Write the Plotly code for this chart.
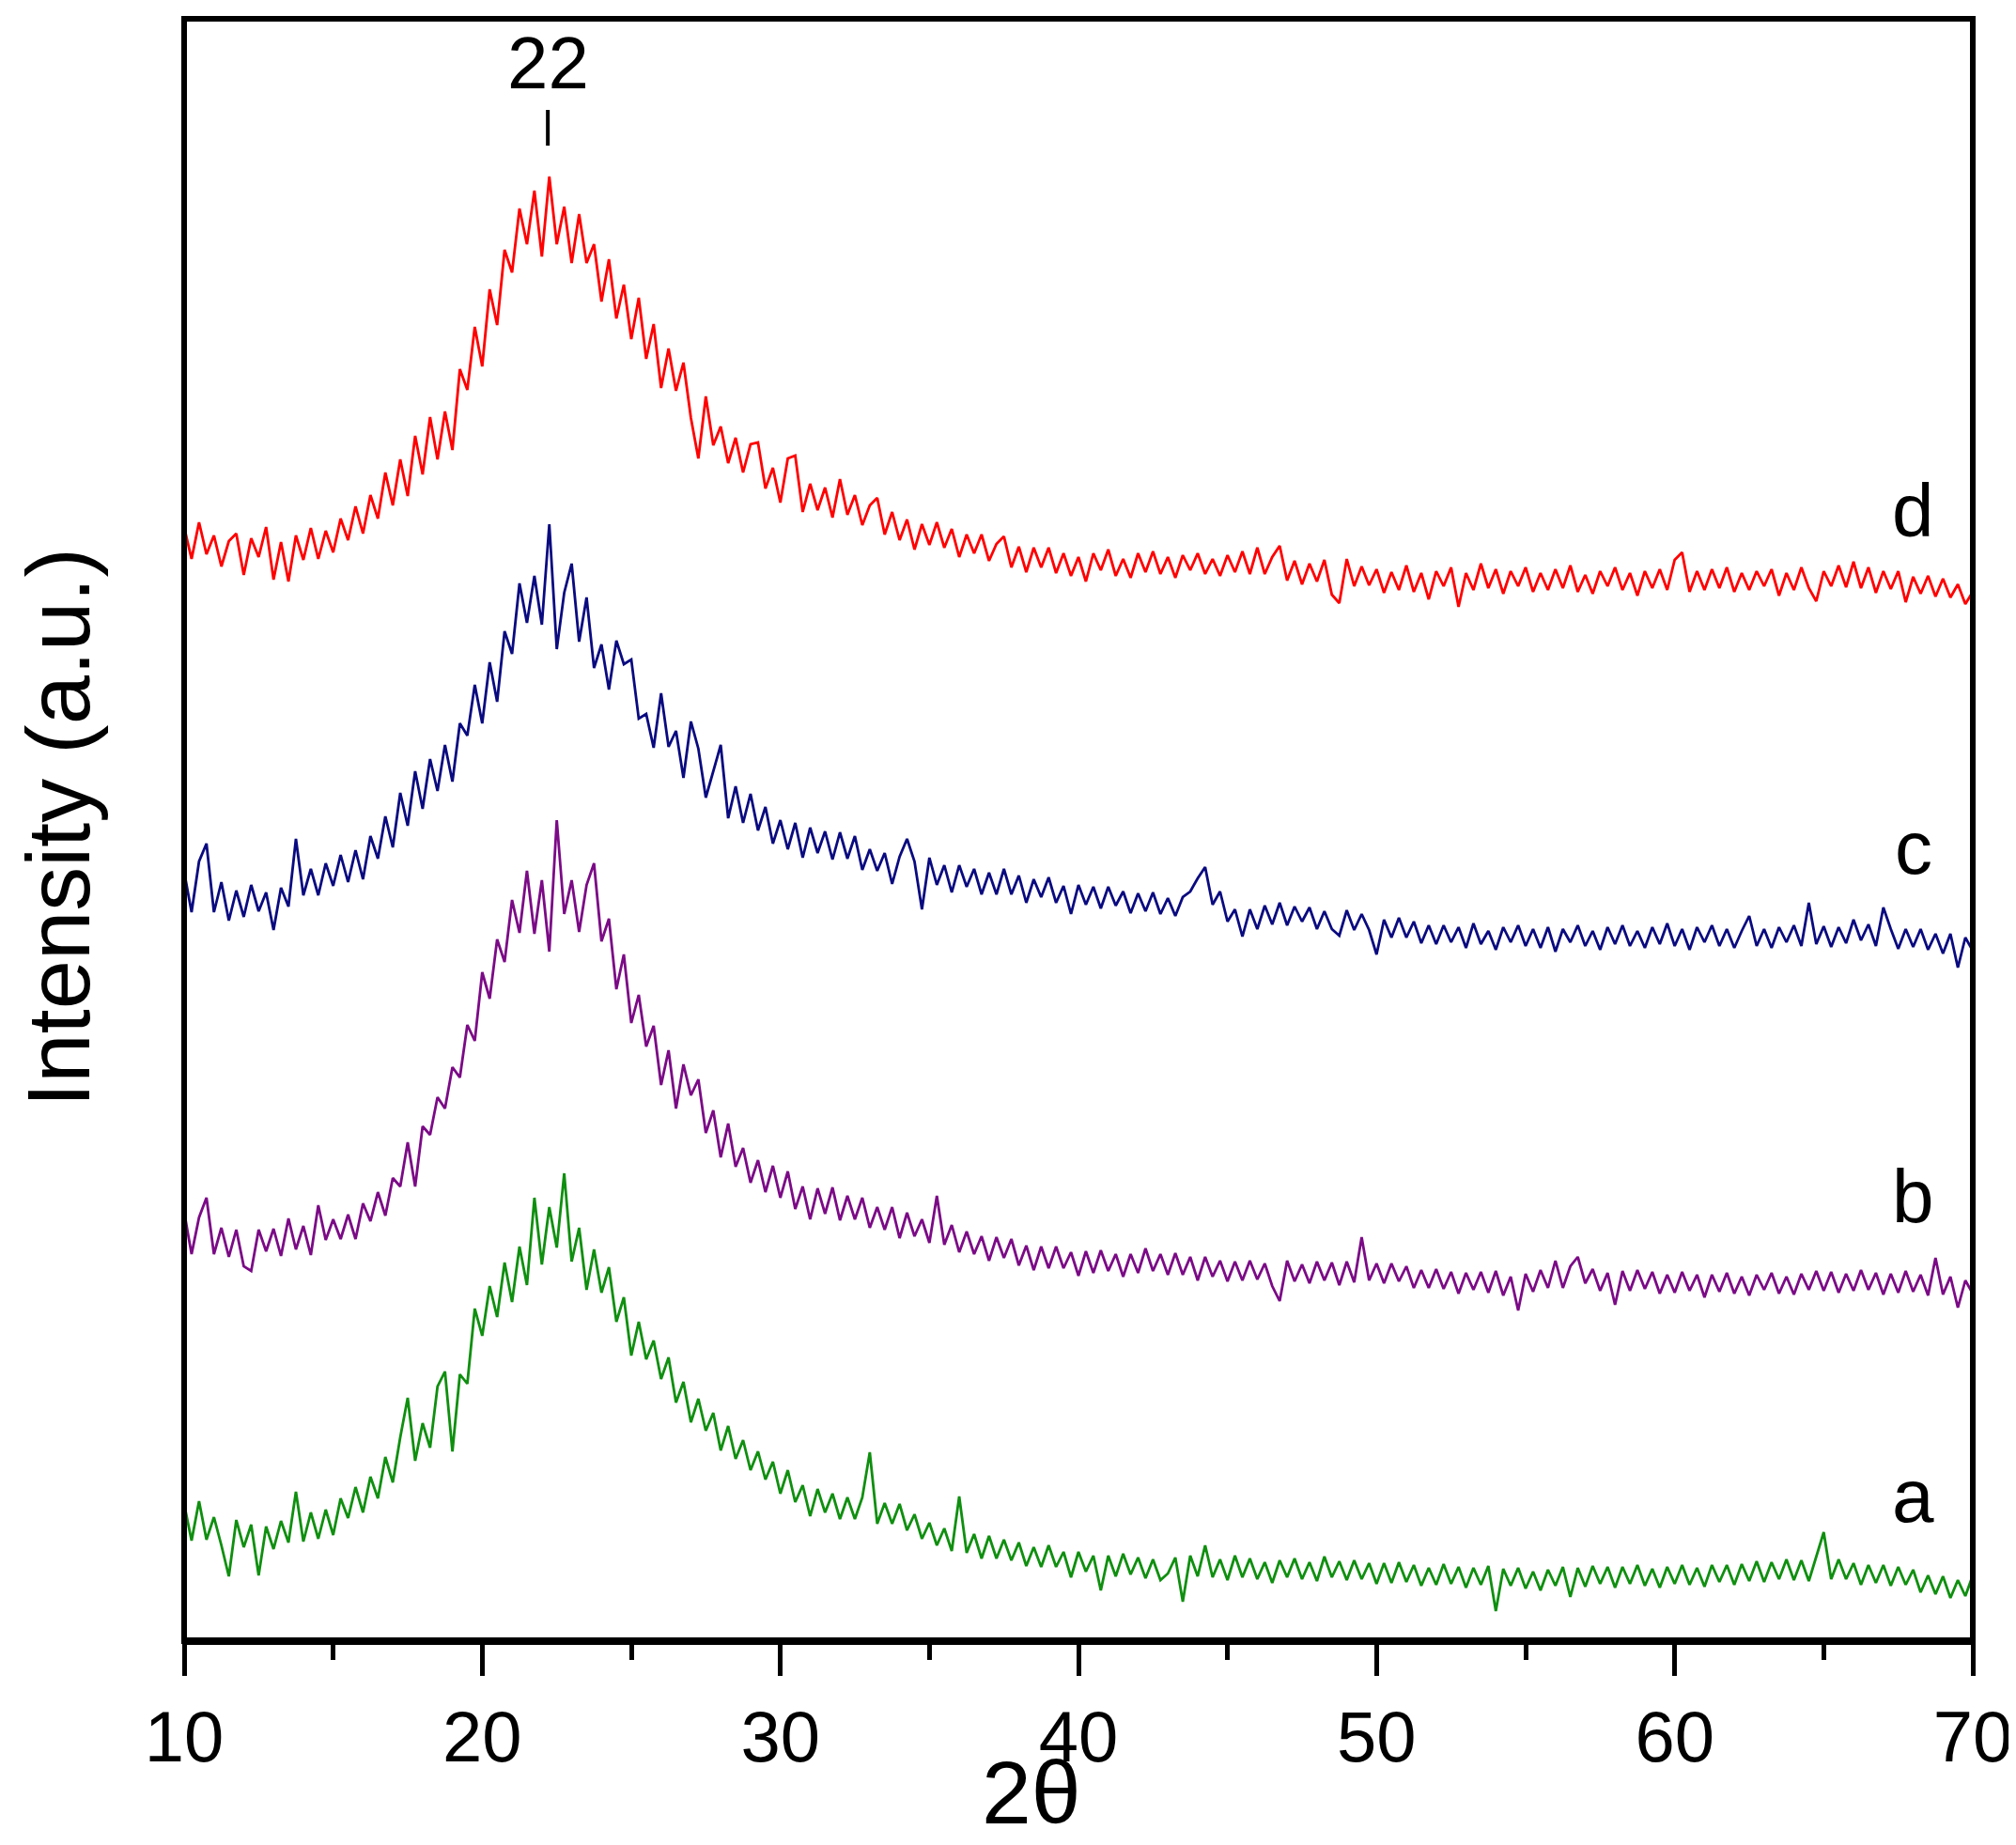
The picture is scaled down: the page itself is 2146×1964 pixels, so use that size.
import numpy as np
import plotly.graph_objects as go

# 2-theta grid (degrees), 0.25 deg step
two_theta = np.linspace(10, 70, 241)

# intensity values (arbitrary units, curves offset as in the figure)
curve_d = [
    1182, 1148, 1187, 1153, 1173, 1140, 1167, 1175, 1131, 1170, 1150, 1182,
    1126, 1166, 1124, 1173, 1147, 1181, 1148, 1178, 1155, 1191, 1168, 1204,
    1175, 1216, 1191, 1240, 1205, 1254, 1215, 1279, 1238, 1299, 1254, 1305,
    1264, 1350, 1328, 1395, 1353, 1435, 1397, 1477, 1453, 1521, 1483, 1540,
    1470, 1555, 1483, 1523, 1463, 1515, 1463, 1483, 1422, 1467, 1404, 1440,
    1382, 1426, 1361, 1398, 1330, 1372, 1327, 1357, 1298, 1255, 1321, 1269,
    1289, 1250, 1277, 1240, 1270, 1272, 1223, 1245, 1208, 1255, 1258, 1198,
    1228, 1200, 1224, 1192, 1233, 1195, 1216, 1184, 1205, 1213, 1174, 1198,
    1168, 1190, 1158, 1185, 1163, 1187, 1160, 1180, 1150, 1174, 1154, 1174,
    1146, 1164, 1172, 1139, 1161, 1134, 1160, 1139, 1160, 1133, 1154, 1130,
    1150, 1124, 1154, 1136, 1158, 1130, 1148, 1128, 1154, 1134, 1156, 1132,
    1150, 1128, 1152, 1136, 1154, 1132, 1148, 1130, 1152, 1134, 1156, 1132,
    1160, 1132, 1150, 1162, 1125, 1146, 1121, 1143, 1124, 1147, 1110, 1101,
    1148, 1119, 1140, 1120, 1137, 1112, 1134, 1115, 1141, 1113, 1133, 1105,
    1135, 1119, 1139, 1097, 1133, 1115, 1143, 1117, 1137, 1111, 1135, 1119,
    1139, 1113, 1133, 1115, 1137, 1117, 1141, 1113, 1131, 1111, 1135, 1119,
    1139, 1115, 1133, 1109, 1135, 1117, 1137, 1115, 1147, 1155, 1113, 1135,
    1115, 1137, 1117, 1139, 1113, 1133, 1115, 1135, 1119, 1137, 1109, 1133,
    1115, 1139, 1117, 1103, 1135, 1119, 1141, 1118, 1145, 1117, 1139, 1112,
    1135, 1116, 1135, 1102, 1129, 1111, 1130, 1108, 1127, 1107, 1121, 1100,
    1113,
]

curve_c = [
    815, 772, 826, 845, 772, 804, 763, 795, 767, 801, 773, 793,
    753, 798, 778, 850, 790, 818, 790, 824, 800, 833, 804, 838,
    807, 853, 829, 874, 841, 899, 864, 922, 882, 935, 901, 950,
    911, 973, 960, 1014, 973, 1038, 996, 1071, 1047, 1122, 1080, 1130,
    1078, 1185, 1052, 1112, 1143, 1060, 1107, 1032, 1057, 1009, 1061, 1036,
    1041, 978, 983, 947, 1005, 948, 965, 915, 975, 946, 894, 921,
    950, 872, 906, 867, 898, 859, 884, 845, 870, 839, 867, 830,
    862, 835, 858, 828, 857, 829, 853, 817, 839, 816, 835, 802,
    831, 850, 826, 775, 830, 801, 822, 793, 822, 799, 818, 791,
    814, 791, 818, 791, 811, 782, 807, 788, 809, 782, 800, 770,
    801, 780, 799, 776, 799, 779, 794, 771, 792, 773, 793, 770,
    787, 768, 788, 794, 808, 820, 780, 794, 762, 775, 746, 775,
    754, 779, 759, 782, 758, 778, 762, 777, 754, 773, 754, 747,
    774, 753, 770, 753, 727, 764, 745, 766, 745, 762, 739, 758,
    738, 758, 740, 756, 734, 760, 738, 752, 732, 756, 740, 758,
    736, 754, 734, 756, 730, 754, 740, 758, 736, 752, 732, 756,
    738, 758, 736, 752, 734, 756, 738, 760, 736, 754, 732, 756,
    740, 758, 736, 754, 734, 752, 768, 736, 754, 734, 756, 740,
    758, 736, 782, 738, 757, 735, 756, 739, 764, 742, 759, 736,
    777, 754, 733, 754, 735, 754, 732, 749, 728, 749, 713, 745,
    731,
]

curve_b = [
    453, 408, 447, 468, 408, 436, 405, 434, 395, 390, 434, 411,
    435, 406, 446, 413, 438, 407, 460, 423, 445, 424, 450, 424,
    462, 443, 474, 449, 489, 480, 527, 480, 544, 535, 575, 563,
    607, 596, 652, 635, 708, 680, 743, 719, 785, 750, 816, 749,
    806, 730, 870, 770, 806, 751, 801, 824, 741, 765, 690, 727,
    654, 684, 629, 651, 588, 625, 563, 610, 577, 594, 537, 561,
    511, 547, 501, 521, 484, 508, 474, 502, 468, 496, 456, 480,
    445, 478, 451, 479, 444, 470, 445, 468, 436, 458, 434, 458,
    425, 452, 427, 445, 420, 470, 418, 439, 410, 432, 408, 427,
    401, 426, 404, 424, 396, 417, 391, 416, 393, 416, 393, 410,
    385, 411, 388, 412, 390, 408, 384, 408, 388, 414, 390, 408,
    386, 409, 386, 405, 380, 405, 384, 401, 379, 400, 380, 401,
    381, 398, 374, 358, 401, 379, 397, 377, 400, 380, 399, 375,
    400, 378, 426, 380, 398, 377, 398, 379, 395, 372, 391, 372,
    392, 371, 389, 366, 388, 370, 389, 367, 390, 364, 384, 348,
    387, 368, 391, 372, 401, 372, 395, 405, 377, 392, 369, 388,
    354, 390, 369, 391, 371, 389, 366, 386, 367, 389, 369, 386,
    362, 386, 368, 388, 366, 384, 364, 386, 370, 388, 366, 384,
    365, 387, 370, 390, 369, 389, 367, 387, 369, 391, 370, 388,
    365, 387, 367, 390, 368, 386, 364, 404, 365, 384, 351, 380,
    366,
]

curve_a = [
    142, 103, 145, 104, 128, 98, 65, 125, 96, 120, 66, 118,
    94, 124, 101, 155, 102, 133, 105, 136, 109, 148, 127, 160,
    133, 171, 148, 192, 165, 213, 255, 188, 228, 202, 267, 283,
    198, 280, 270, 350, 321, 374, 341, 399, 357, 416, 375, 468,
    397, 458, 415, 494, 400, 436, 370, 413, 367, 394, 336, 362,
    300, 336, 296, 316, 275, 298, 250, 272, 229, 254, 220, 239,
    199, 225, 190, 210, 178, 198, 168, 187, 153, 178, 144, 162,
    129, 158, 133, 153, 126, 149, 126, 149, 197, 121, 143, 121,
    142, 114, 131, 105, 122, 98, 116, 92, 150, 90, 110, 84,
    108, 84, 104, 82, 101, 76, 96, 75, 98, 75, 91, 64,
    91, 70, 87, 50, 87, 65, 89, 67, 85, 63, 83, 61,
    68, 85, 38, 87, 65, 98, 64, 83, 61, 87, 64, 84,
    62, 80, 58, 82, 64, 84, 62, 80, 60, 86, 64, 81,
    61, 82, 62, 79, 57, 79, 58, 80, 59, 77, 55, 74,
    56, 78, 57, 75, 53, 74, 56, 76, 28, 73, 55, 74,
    52, 70, 50, 72, 55, 75, 43, 74, 54, 76, 57, 75,
    53, 75, 57, 77, 55, 73, 53, 75, 57, 77, 56, 74,
    54, 77, 59, 77, 56, 78, 60, 81, 59, 80, 62, 83,
    61, 82, 60, 86, 112, 62, 83, 62, 79, 56, 77, 58,
    77, 55, 75, 56, 72, 48, 66, 46, 65, 42, 61, 44,
    66,
]

series_names = ["a", "b", "c", "d"]
series_values = [curve_a, curve_b, curve_c, curve_d]
series_colors = ["#0f8f0f", "#7b0a86", "#0a0a80", "#ff0000"]
label_y = [151, 470, 841, 1200]      # where the a-d letters sit (intensity units)
label_x = 68.0

peak_pos = 22.2
peak_label = "22"
peak_label_y = 1676
peak_tick = [1588, 1626]

x_ticks = [10, 20, 30, 40, 50, 60, 70]

FONT = "Liberation Sans, Arial, sans-serif"

fig = go.Figure()
for name, vals, col in zip(series_names, series_values, series_colors):
    fig.add_trace(go.Scatter(x=two_theta, y=vals, mode="lines", name=name,
                             line=dict(color=col, width=2.8), showlegend=False))

annotations = []
for name, yv in zip(series_names, label_y):
    annotations.append(dict(x=label_x, y=yv, xref="x", yref="y", text=name,
                            showarrow=False, xanchor="center", yanchor="middle",
                            font=dict(family=FONT, size=80, color="black")))
annotations.append(dict(x=peak_pos, y=peak_label_y, xref="x", yref="y", text=peak_label,
                        showarrow=False, xanchor="center", yanchor="middle",
                        font=dict(family=FONT, size=78, color="black")))
annotations.append(dict(x=-0.0705, y=0.5014, xref="paper", yref="paper",
                        text="Intensity (a.u.)", textangle=-90, showarrow=False,
                        xanchor="center", yanchor="middle",
                        font=dict(family=FONT, size=94, color="black")))
annotations.append(dict(x=0.4737, y=-0.0935, xref="paper", yref="paper",
                        text="2θ", showarrow=False, xanchor="center", yanchor="middle",
                        font=dict(family=FONT, size=95, color="black")))

shapes = [
    dict(type="rect", xref="paper", yref="paper", x0=0, y0=0, x1=1, y1=1,
         line=dict(color="black", width=6), fillcolor="rgba(0,0,0,0)", layer="above"),
    dict(type="line", xref="paper", yref="paper", x0=0, x1=1, y0=0, y1=0,
         line=dict(color="black", width=8), layer="above"),
    dict(type="line", xref="x", yref="y", x0=peak_pos, x1=peak_pos,
         y0=peak_tick[0], y1=peak_tick[1], line=dict(color="black", width=4)),
]

fig.update_layout(
    width=2146, height=1964,
    margin=dict(l=188, r=46, t=12, b=225),
    paper_bgcolor="white", plot_bgcolor="white",
    annotations=annotations, shapes=shapes,
    xaxis=dict(range=[10, 70], tickvals=x_ticks, ticks="outside", ticklen=36,
               tickwidth=5, tickcolor="black", showline=False,
               showgrid=False, zeroline=False,
               tickfont=dict(family=FONT, size=76, color="black"),
               minor=dict(dtick=5, tick0=10, ticks="outside", ticklen=19,
                          tickwidth=5, tickcolor="black", showgrid=False)),
    yaxis=dict(range=[-4, 1723], showticklabels=False, ticks="", showgrid=False,
               zeroline=False, showline=False),
)

fig.write_html("out.html")
